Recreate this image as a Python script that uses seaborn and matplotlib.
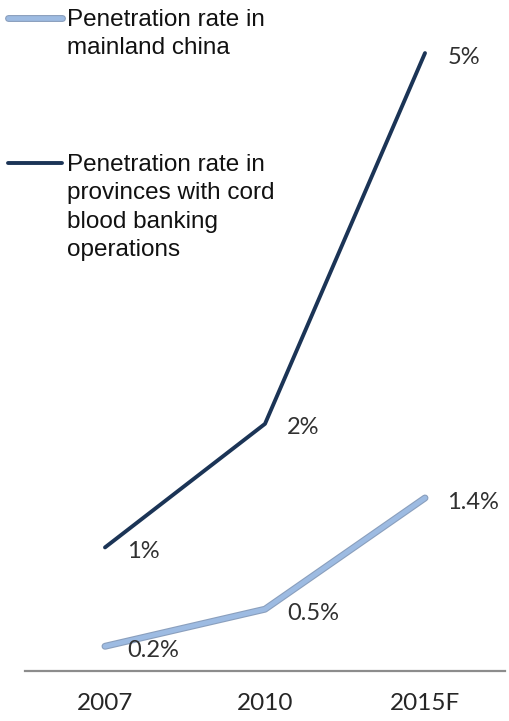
import matplotlib
matplotlib.use("Agg")
import matplotlib.pyplot as plt
import matplotlib.patheffects as pe
from matplotlib.lines import Line2D
import seaborn as sns
import pandas as pd

# Data
years = ["2007", "2010", "2015F"]
mainland_rate = [0.2, 0.5, 1.4]          # % penetration, mainland China
province_rate = [1.0, 2.0, 5.0]          # % penetration, provinces with cord blood banking
mainland_labels = ["0.2%", "0.5%", "1.4%"]
province_labels = ["1%", "2%", "5%"]
series_names = [
    "Penetration rate in\nmainland china",
    "Penetration rate in\nprovinces with cord\nblood banking\noperations",
]

df = pd.DataFrame({
    "year": years * 2,
    "rate": mainland_rate + province_rate,
    "series": [series_names[0]] * 3 + [series_names[1]] * 3,
})

light = "#9dbbe2"
light_edge = "#8a9fbd"
dark = "#1b3456"

sns.set_theme(style="white")
plt.rcParams["font.family"] = ["Lato", "DejaVu Sans"]

fig = plt.figure(figsize=(5.10, 7.21), dpi=100)
ax = fig.add_axes([25 / 510, 50 / 721, 480 / 510, 655 / 721])

sns.lineplot(data=df, x="year", y="rate", hue="series",
             palette={series_names[0]: light, series_names[1]: dark},
             legend=False, ax=ax, sort=False)

# styling of the two lines
for line in ax.get_lines():
    if line.get_color() == light:
        line.set_linewidth(3.4)
        line.set_path_effects([pe.Stroke(linewidth=5.0, foreground=light_edge),
                               pe.Normal()])
    else:
        line.set_linewidth(2.8)

ax.set_xlim(-0.5, 2.5)
ax.set_ylim(0, 5.3)

# value labels
for i, (v, t) in enumerate(zip(mainland_rate, mainland_labels)):
    ax.annotate(t, (i, v), xytext=(16, -3), textcoords="offset points",
                ha="left", va="center", fontsize=17, color="#303030")
for i, (v, t) in enumerate(zip(province_rate, province_labels)):
    ax.annotate(t, (i, v), xytext=(16, -3), textcoords="offset points",
                ha="left", va="center", fontsize=17, color="#303030")

# axes cosmetics
for s in ["left", "right", "top"]:
    ax.spines[s].set_visible(False)
ax.spines["bottom"].set_color("#8c8c8c")
ax.spines["bottom"].set_linewidth(1.6)
ax.set_yticks([])
ax.set_xlabel("")
ax.set_ylabel("")
ax.tick_params(axis="x", length=0, pad=16, labelsize=17.5, labelcolor="#262626")

# legend entries drawn at the top-left
legend_items = [(series_names[0], light, 18), (series_names[1], dark, 163)]
for text, color, ypx in legend_items:
    yf = 1 - ypx / 721
    ln = Line2D([8 / 510, 62 / 510], [yf, yf], transform=fig.transFigure,
                color=color, linewidth=3.4 if color == light else 2.8,
                solid_capstyle="round")
    if color == light:
        ln.set_path_effects([pe.Stroke(linewidth=5.0, foreground=light_edge),
                             pe.Normal()])
    fig.add_artist(ln)
    fig.text(67 / 510, yf + 9 / 721, text, ha="left", va="top",
             fontsize=17.5, family=["Liberation Sans", "DejaVu Sans"],
             color="#111111", linespacing=1.38)

fig.savefig("out.png", dpi=100)
